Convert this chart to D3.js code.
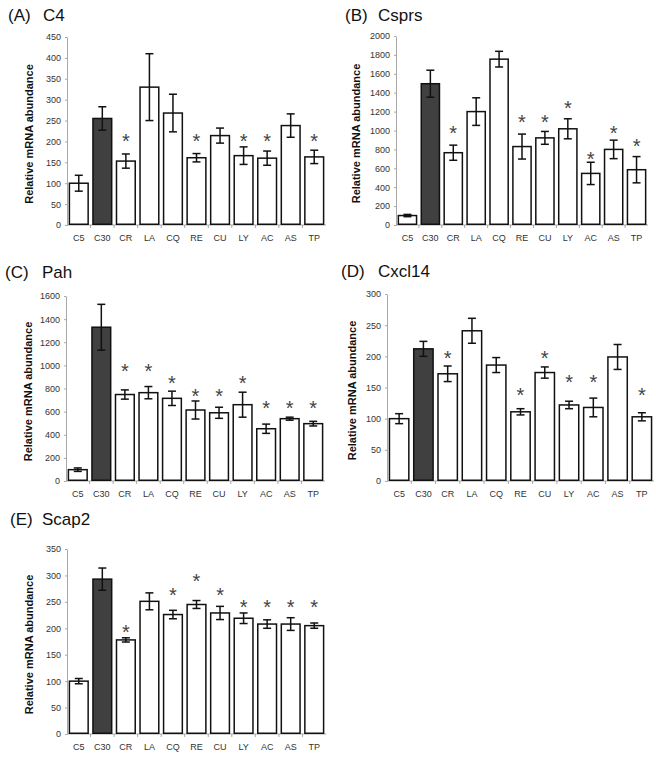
<!DOCTYPE html>
<html>
<head>
<meta charset="utf-8">
<script src="https://cdn.jsdelivr.net/npm/d3@7"></script>
<style>
  body { margin: 0; background: #fff; }
  svg { font-family: "Liberation Sans", Arial, sans-serif; }
  .axis path, .axis line { stroke: #a8a8a8; }
  .axis text { fill: #333; font-size: 9px; }
</style>
</head>
<body>
<div id="chart"></div>
<script>
var categories = ["C5", "C30", "CR", "LA", "CQ", "RE", "CU", "LY", "AC", "AS", "TP"];

// C4
var c4Values = [100, 255, 153, 330, 268, 161, 214, 166, 160, 238, 163];
var c4Errors = [19, 28, 17, 80, 45, 10, 18, 21, 17, 28, 16];
var c4Stars  = [null, null, 213, null, null, 213, null, 213, 213, null, 213];
var c4Ticks  = [0, 50, 100, 150, 200, 250, 300, 350, 400, 450];

// Csprs
var csprsValues = [100, 1495, 765, 1200, 1755, 830, 922, 1018, 546, 800, 585];
var csprsErrors = [12, 143, 80, 146, 83, 132, 68, 106, 118, 98, 139];
var csprsStars  = [null, null, 1025, null, null, 1148, 1148, 1289, 754, 1025, 887];
var csprsTicks  = [0, 200, 400, 600, 800, 1000, 1200, 1400, 1600, 1800, 2000];

// Pah
var pahValues = [98, 1330, 748, 764, 715, 614, 590, 660, 452, 539, 496];
var pahErrors = [15, 198, 40, 53, 62, 78, 48, 108, 40, 13, 20];
var pahStars  = [null, null, 994, 994, 888, 775, 775, 888, 671, 671, 671];
var pahTicks  = [0, 200, 400, 600, 800, 1000, 1200, 1400, 1600];

// Cxcl14
var cxclValues = [100, 212, 172, 241, 186, 111, 174, 122, 118, 199, 103];
var cxclErrors = [8, 12, 12.5, 20, 12, 5, 9, 6, 15, 20, 6.5];
var cxclStars  = [null, null, 205, null, null, 146, 205, 167, 167, null, 146];
var cxclTicks  = [0, 50, 100, 150, 200, 250, 300];

// Scap2
var scapValues = [100, 293, 178, 251, 226, 245, 229, 219, 208, 208, 205];
var scapErrors = [5, 21, 4, 16, 8, 7.5, 12.5, 10, 8, 12, 5];
var scapStars  = [null, null, 203, null, 273, 298, 273, 250, 250, 250, 250];
var scapTicks  = [0, 50, 100, 150, 200, 250, 300, 350];

var panels = [
  {letter: "(A)", gene: "C4", values: c4Values, errors: c4Errors, stars: c4Stars, ticks: c4Ticks,
   x0: 67, x1: 326, yTop: 37, yBottom: 225, titleX: 8, geneX: 43, titleY: 21, labelX: 33},
  {letter: "(B)", gene: "Csprs", values: csprsValues, errors: csprsErrors, stars: csprsStars, ticks: csprsTicks,
   x0: 396, x1: 648, yTop: 36, yBottom: 225, titleX: 345, geneX: 378, titleY: 21, labelX: 360},
  {letter: "(C)", gene: "Pah", values: pahValues, errors: pahErrors, stars: pahStars, ticks: pahTicks,
   x0: 66, x1: 325, yTop: 296, yBottom: 481, titleX: 5, geneX: 42, titleY: 278, labelX: 32},
  {letter: "(D)", gene: "Cxcl14", values: cxclValues, errors: cxclErrors, stars: cxclStars, ticks: cxclTicks,
   x0: 387, x1: 654, yTop: 294, yBottom: 481, titleX: 341, geneX: 378, titleY: 277, labelX: 356},
  {letter: "(E)", gene: "Scap2", values: scapValues, errors: scapErrors, stars: scapStars, ticks: scapTicks,
   x0: 67, x1: 326, yTop: 549, yBottom: 734, titleX: 10, geneX: 42, titleY: 525, labelX: 33}
];

var svg = d3.select("#chart").append("svg")
  .attr("width", 656)
  .attr("height", 759);

panels.forEach(function(p) {
  var g = svg.append("g");

  var x = d3.scaleBand()
    .domain(categories)
    .range([p.x0, p.x1])
    .paddingInner(0.14)
    .paddingOuter(0.07);

  var y = d3.scaleLinear()
    .domain([0, d3.max(p.ticks)])
    .range([p.yBottom, p.yTop]);

  // title
  g.append("text")
    .attr("x", p.titleX).attr("y", p.titleY)
    .attr("font-size", 17)
    .attr("fill", "#111")
    .text(p.letter);
  g.append("text")
    .attr("x", p.geneX).attr("y", p.titleY)
    .attr("font-size", 17)
    .attr("fill", "#111")
    .text(p.gene);

  // y axis label
  g.append("text")
    .attr("transform", "translate(" + p.labelX + "," + ((p.yTop + p.yBottom) / 2 + 3) + ") rotate(-90)")
    .attr("text-anchor", "middle")
    .attr("font-size", 11)
    .attr("font-weight", "bold")
    .attr("fill", "#111")
    .text("Relative mRNA abundance");

  // axes
  var yAxis = d3.axisLeft(y).tickValues(p.ticks).tickFormat(d3.format("d")).tickSize(2).tickSizeOuter(0).tickPadding(4);
  g.append("g")
    .attr("class", "axis")
    .attr("transform", "translate(" + p.x0 + ",0)")
    .call(yAxis);

  var xAxis = d3.axisBottom(x).tickSize(0).tickPadding(10);
  var xg = g.append("g")
    .attr("class", "axis")
    .attr("transform", "translate(0," + p.yBottom + ")")
    .call(xAxis);
  xg.select(".domain").attr("d", "M" + p.x0 + ",0H" + p.x1);

  // small tick marks between categories
  xg.selectAll(".sep")
    .data(categories.slice(1)).enter()
    .append("line")
    .attr("class", "sep")
    .attr("x1", d => x(d) - x.step() * x.paddingInner() / 2)
    .attr("x2", d => x(d) - x.step() * x.paddingInner() / 2)
    .attr("y1", 0).attr("y2", 3)
    .attr("stroke", "#a8a8a8");

  var data = categories.map(function(c, i) {
    return {cat: c, value: p.values[i], err: p.errors[i], star: p.stars[i]};
  });

  // bars
  g.selectAll(".bar")
    .data(data).enter()
    .append("rect")
    .attr("class", "bar")
    .attr("x", d => x(d.cat) + 0.75)
    .attr("width", x.bandwidth() - 1.5)
    .attr("y", d => y(d.value))
    .attr("height", d => y(0) - y(d.value) - 0.75)
    .attr("fill", d => d.cat == "C30" ? "#404040" : "#fff")
    .attr("stroke", "#111")
    .attr("stroke-width", 1.5);

  // error bars
  var eb = g.selectAll(".err")
    .data(data).enter()
    .append("g")
    .attr("class", "err")
    .attr("stroke", "#111")
    .attr("stroke-width", 1.5);
  eb.append("line")
    .attr("x1", d => x(d.cat) + x.bandwidth() / 2)
    .attr("x2", d => x(d.cat) + x.bandwidth() / 2)
    .attr("y1", d => y(d.value + d.err))
    .attr("y2", d => y(d.value - d.err));
  eb.append("line")
    .attr("x1", d => x(d.cat) + x.bandwidth() / 2 - 4)
    .attr("x2", d => x(d.cat) + x.bandwidth() / 2 + 4)
    .attr("y1", d => y(d.value + d.err))
    .attr("y2", d => y(d.value + d.err));
  eb.append("line")
    .attr("x1", d => x(d.cat) + x.bandwidth() / 2 - 4)
    .attr("x2", d => x(d.cat) + x.bandwidth() / 2 + 4)
    .attr("y1", d => y(d.value - d.err))
    .attr("y2", d => y(d.value - d.err));

  // significance stars
  g.selectAll(".star")
    .data(data.filter(d => d.star != null)).enter()
    .append("text")
    .attr("class", "star")
    .attr("x", d => x(d.cat) + x.bandwidth() / 2)
    .attr("y", d => y(d.star) + 12)
    .attr("text-anchor", "middle")
    .attr("font-size", 20)
    .attr("fill", "#444")
    .text("*");
});
</script>
</body>
</html>
